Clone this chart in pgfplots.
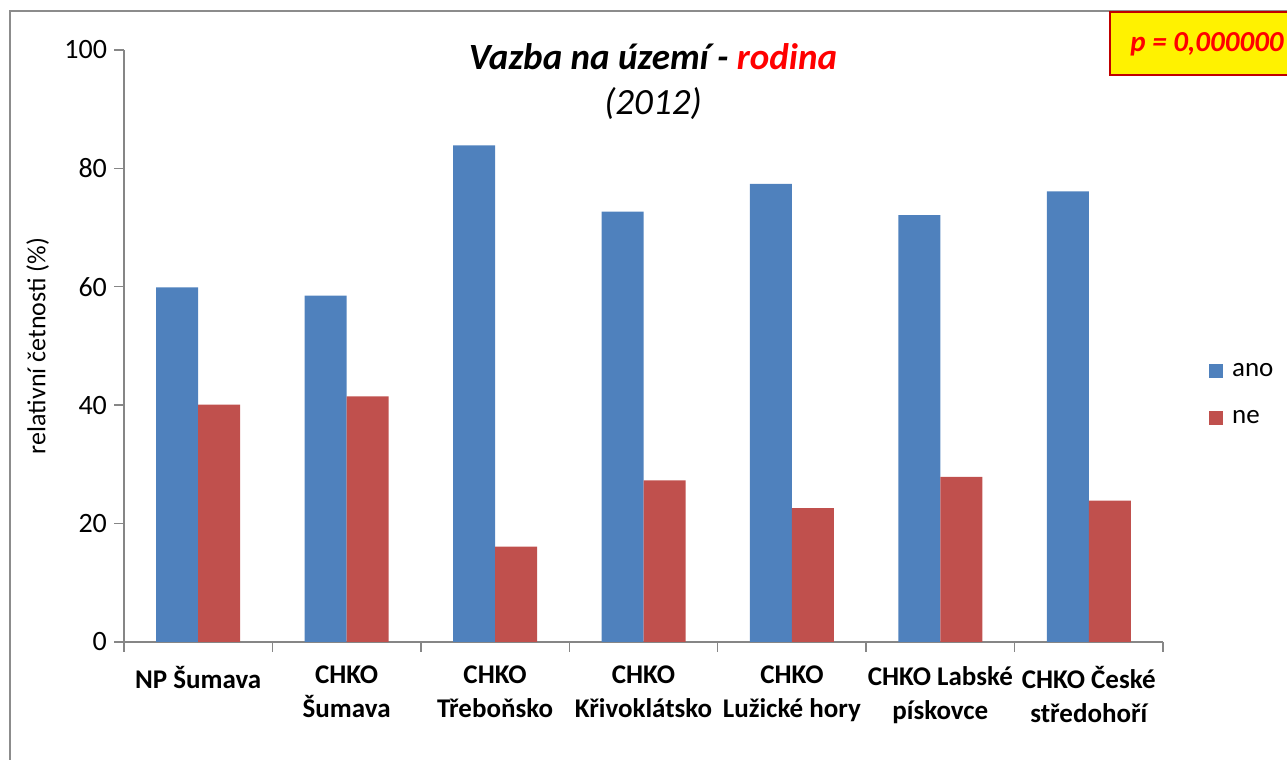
\documentclass[border=0pt]{standalone}
\usepackage{fontspec}
\setmainfont{Carlito}
\usepackage{pgfplots}
\pgfplotsset{compat=1.18}
\definecolor{cblue}{HTML}{4F81BD}
\definecolor{cred}{HTML}{C0504D}
\definecolor{axgray}{HTML}{868686}
\definecolor{framegray}{HTML}{8C8C8C}
\definecolor{pborder}{HTML}{C00000}
\begin{document}
\begin{tikzpicture}
\useasboundingbox (0,0) rectangle (643.5pt,380pt);
\draw[framegray, line width=0.9pt] (5pt,-20pt) rectangle (700pt,374.5pt);
\begin{axis}[
  at={(62pt,59pt)}, anchor=south west, scale only axis,
  width=519.5pt, height=296pt,
  ybar=0pt, bar width=21pt,
  xmin=0.5, xmax=7.5, ymin=0, ymax=100,
  axis x line=bottom, axis y line=left,
  axis line style={-, draw=axgray, line width=0.7pt},
  tick style={draw=axgray, line width=0.7pt},
  tick align=outside, major tick length=5pt,
  xtick={0.5,1.5,...,7.5}, xticklabels={},
  extra x ticks={1,2,3,4,5,6,7},
  extra x tick labels={NP Šumava, {CHKO\\Šumava}, {CHKO\\Třeboňsko}, {CHKO\\Křivoklátsko}, {CHKO\\Lužické hory}, {CHKO Labské\\pískovce}, {CHKO České\\středohoří}},
  extra x tick style={major tick length=0pt, tick label style={font=\fontsize{13.5}{17}\selectfont\bfseries, align=center, anchor=north, yshift=-8.5pt}},
  ytick={0,20,...,100},
  yticklabel style={font=\fontsize{14}{16}\selectfont, /pgf/number format/assume math mode=true, xshift=0pt},
  ylabel={relativní četnosti (\%)},
  ylabel style={font=\fontsize{13}{15}\selectfont, at={(axis description cs:-0.083,0.5)}, anchor=center},
  legend style={at={(axis description cs:1.044,0.418)}, anchor=west, draw=none, fill=none, font=\fontsize{13.5}{15}\selectfont, row sep=11.5pt, inner sep=0pt, /tikz/every odd column/.append style={column sep=2.5pt}},
  legend cell align=left,
  legend image code/.code={\fill[#1,draw=none] (-0.5pt,-3.5pt) rectangle (6.5pt,3.5pt);},
]
\addplot[fill=cblue, draw=none] coordinates {(1,59.9) (2,58.5) (3,83.9) (4,72.7) (5,77.4) (6,72.1) (7,76.1)};
\addplot[fill=cred, draw=none] coordinates {(1,40.1) (2,41.5) (3,16.1) (4,27.3) (5,22.6) (6,27.9) (7,23.9)};
\legend{ano, ne}
\end{axis}
\node[font=\fontsize{18.5}{22}\selectfont\bfseries\itshape] at (326.5pt,351.5pt) {Vazba na území - {\color{red}rodina}};
\node[font=\fontsize{18.5}{22}\selectfont\itshape] at (326.5pt,328pt) {(2012)};
\filldraw[fill=yellow, draw=pborder, line width=1pt] (555pt,342.5pt) rectangle (720pt,374pt);
\node[anchor=west, text=red, font=\fontsize{14.5}{16}\selectfont\bfseries\itshape, inner sep=0pt] at (565pt,358pt) {p = 0,000000};
\end{tikzpicture}
\end{document}
